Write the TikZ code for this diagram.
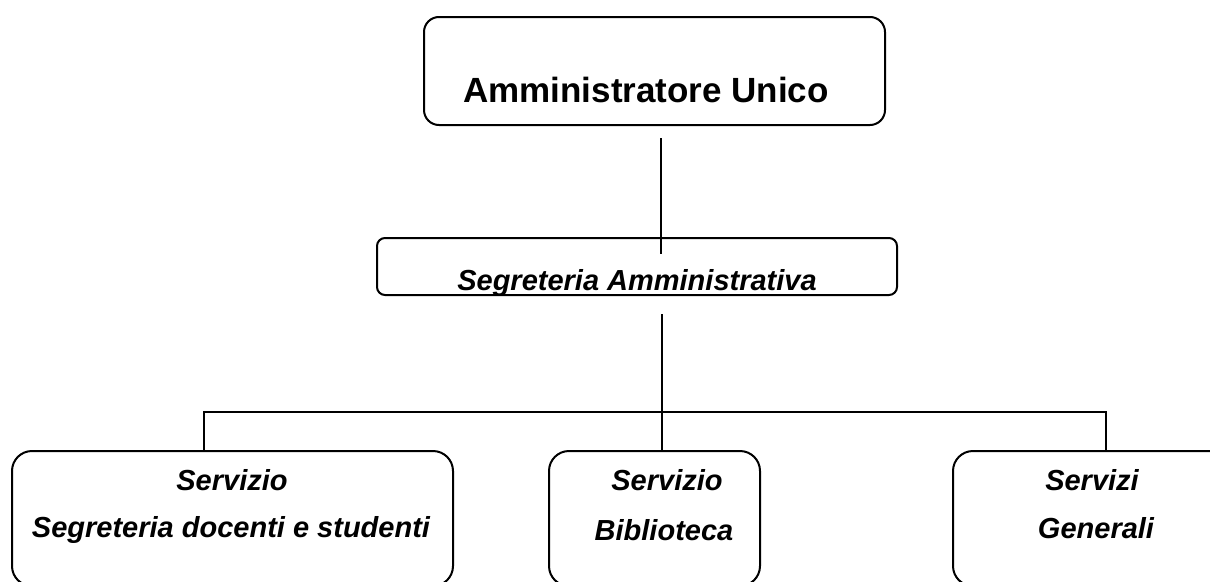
\documentclass[tikz,border=0pt]{standalone}
\usepackage{fontspec}
\setmainfont{Liberation Sans}
\usetikzlibrary{calc}
\begin{document}
\begin{tikzpicture}[x=1pt,y=-1pt,
  box/.style={draw,line width=2pt,rectangle,inner sep=0pt},
  lbl/.style={inner sep=0pt,anchor=base,font=\bfseries\itshape\fontsize{29}{35}\selectfont},
  conn/.style={line width=2pt}]
\useasboundingbox (0,0) rectangle (1210,581);
\clip (0,0) rectangle (1210,581);
% boxes
\node[box,rounded corners=15pt,minimum width=461pt,minimum height=108pt] (top) at (654.5,71) {};
\node[box,rounded corners=8pt,minimum width=520pt,minimum height=57pt] (mid) at (637,266.5) {};
\node[box,rounded corners=20pt,minimum width=441pt,minimum height=135pt] (b1) at (232.5,518.5) {};
\node[box,rounded corners=20pt,minimum width=211pt,minimum height=135pt] (b2) at (654.5,518.5) {};
\node[box,rounded corners=20pt,minimum width=282pt,minimum height=135pt] (b3) at (1094,518.5) {};
% texts
\node[inner sep=0pt,anchor=base,font=\bfseries\fontsize{35}{42}\selectfont] (ttop) at (646,102) {Amministratore Unico};
\node[lbl] (tmid) at (637,290) {Segreteria Amministrativa};
\node[lbl] (t1a) at (232,490) {Servizio};
\node[lbl] (t1b) at (231,537) {Segreteria docenti e studenti};
\node[lbl] (t2a) at (667,490) {Servizio};
\node[lbl] (t2b) at (664,540) {Biblioteca};
\node[lbl] (t3a) at (1092,490) {Servizi};
\node[lbl] (t3b) at (1096,538) {Generali};
% connectors
\coordinate (c1s) at (661,138);
\coordinate (c1e) at (661,254);
\coordinate (c2s) at (662,314);
\coordinate (hl) at (204,412);
\coordinate (hr) at (1106,412);
\draw[conn] (c1s) -- (c1e);
\draw[conn] (c2s) -- (c2s |- b2.north);
\draw[conn] (hl |- b1.north) -- (hl) -- (hr) -- (hr |- b3.north);
\end{tikzpicture}
\end{document}
